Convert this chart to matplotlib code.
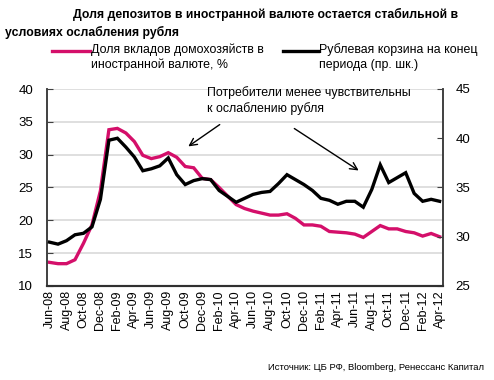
import matplotlib
matplotlib.use("Agg")
import matplotlib.pyplot as plt
from matplotlib.lines import Line2D

plt.rcParams['font.family'] = ['Liberation Sans', 'DejaVu Sans']

months = ["Jun-08", "Jul-08", "Aug-08", "Sep-08", "Oct-08", "Nov-08", "Dec-08",
          "Jan-09", "Feb-09", "Mar-09", "Apr-09", "May-09", "Jun-09", "Jul-09",
          "Aug-09", "Sep-09", "Oct-09", "Nov-09", "Dec-09", "Jan-10", "Feb-10",
          "Mar-10", "Apr-10", "May-10", "Jun-10", "Jul-10", "Aug-10", "Sep-10",
          "Oct-10", "Nov-10", "Dec-10", "Jan-11", "Feb-11", "Mar-11", "Apr-11",
          "May-11", "Jun-11", "Jul-11", "Aug-11", "Sep-11", "Oct-11", "Nov-11",
          "Dec-11", "Jan-12", "Feb-12", "Mar-12", "Apr-12"]

fx_share = [13.6, 13.4, 13.4, 14.0, 16.5, 19.3, 24.5, 33.8, 34.0, 33.3, 32.0, 29.9,
            29.4, 29.7, 30.3, 29.6, 28.2, 28.0, 26.4, 26.2, 25.0, 23.7, 22.4, 21.8,
            21.4, 21.1, 20.8, 20.8, 21.0, 20.3, 19.3, 19.3, 19.1, 18.3, 18.2, 18.1,
            17.9, 17.4, 18.3, 19.2, 18.7, 18.7, 18.3, 18.1, 17.6, 18.0, 17.5]

basket = [29.45, 29.25, 29.6, 30.2, 30.35, 31.0, 33.8, 39.8, 40.0, 39.1, 38.1, 36.7,
          36.9, 37.2, 38.0, 36.3, 35.3, 35.7, 35.9, 35.8, 34.7, 34.1, 33.5, 33.9,
          34.3, 34.5, 34.6, 35.4, 36.3, 35.8, 35.3, 34.7, 33.9, 33.7, 33.3, 33.6,
          33.6, 33.0, 34.8, 37.3, 35.5, 36.0, 36.5, 34.4, 33.6, 33.8, 33.6]

left_ticks = [10, 15, 20, 25, 30, 35, 40]
right_ticks = [25, 30, 35, 40, 45]

title_l1 = "Доля депозитов в иностранной валюте остается стабильной в"
title_l2 = "условиях ослабления рубля"
leg1 = "Доля вкладов домохозяйств в\nиностранной валюте, %"
leg2 = "Рублевая корзина на конец\nпериода (пр. шк.)"
note = "Потребители менее чувствительны\nк ослаблению рубля"
source = "Источник: ЦБ РФ, Bloomberg, Ренессанс Капитал"

W, H = 494, 380
fig = plt.figure(figsize=(W / 100, H / 100), dpi=100)
ax = fig.add_axes([47 / W, 1 - 286 / H, (443 - 47) / W, (286 - 89) / H])
ax2 = ax.twinx()

pink = "#D40F6A"
x = list(range(len(months)))

ax.set_ylim(10, 40)
ax.set_yticks(left_ticks)
ax.grid(axis='y', color='#d9d9d9', linewidth=1.2)
ax.set_axisbelow(True)
ax.plot(x, fx_share, color=pink, linewidth=2.4, solid_joinstyle='miter', zorder=3)

ax2.set_ylim(25, 45)
ax2.set_yticks(right_ticks)
ax2.plot(x, basket, color='black', linewidth=2.4, solid_joinstyle='miter', zorder=4)

ax.set_xlim(-0.3, 46.4)
ax.set_xticks(x[::2])
ax.set_xticklabels(months[::2], rotation=90, fontsize=9)
ax.tick_params(axis='x', length=0, pad=3)
ax.tick_params(axis='y', direction='in', length=4, labelsize=9.5, pad=10, color='#404040')
ax2.tick_params(axis='y', direction='in', length=4, labelsize=9.5, pad=9, color='#404040')

for a in (ax, ax2):
    a.spines['top'].set_visible(False)
    a.spines['left'].set_color('#404040')
    a.spines['right'].set_color('#404040')
    a.spines['bottom'].set_color('#303030')
    a.spines['left'].set_linewidth(1.2)
    a.spines['right'].set_linewidth(1.2)
    a.spines['bottom'].set_linewidth(1.5)

def fx_(px):
    return px / W

def fy_(py):
    return 1 - py / H

# title
fig.text(fx_(73), fy_(14), title_l1, fontsize=8.8, fontweight='bold', va='center', ha='left')
fig.text(fx_(5), fy_(32), title_l2, fontsize=8.8, fontweight='bold', va='center', ha='left')

# legend
fig.add_artist(Line2D([fx_(52), fx_(90)], [fy_(51), fy_(51)], color=pink, linewidth=2.4))
fig.text(fx_(91), fy_(43), leg1, fontsize=8.9, va='top', ha='left', linespacing=1.3)
fig.add_artist(Line2D([fx_(283), fx_(318)], [fy_(51), fy_(51)], color='black', linewidth=2.4))
fig.text(fx_(319), fy_(43), leg2, fontsize=8.9, va='top', ha='left', linespacing=1.3)

# annotation
fig.text(fx_(207), fy_(86), note, fontsize=8.9, va='top', ha='left', linespacing=1.3)
ap = dict(arrowstyle='->', color='black', lw=1.0, mutation_scale=13)
fig.add_artist(matplotlib.patches.FancyArrowPatch((fx_(222), fy_(123)), (fx_(186), fy_(148)),
               transform=fig.transFigure, **ap))
fig.add_artist(matplotlib.patches.FancyArrowPatch((fx_(292), fy_(127)), (fx_(361), fy_(172)),
               transform=fig.transFigure, **ap))

fig.text(fx_(484), fy_(368), source, fontsize=6.8, va='center', ha='right')

fig.savefig("out.png", dpi=100)
